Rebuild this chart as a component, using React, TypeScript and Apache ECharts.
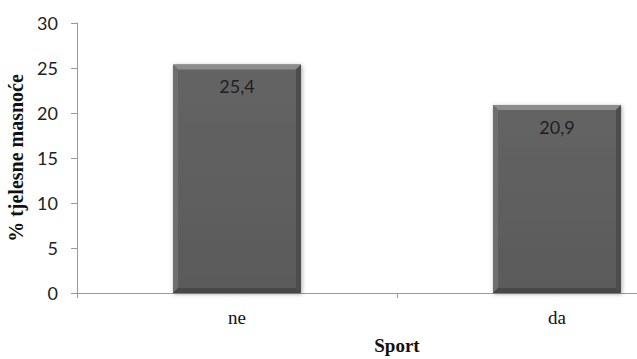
import React, { useEffect, useRef } from "react";
import * as echarts from "echarts";

const categories = ["ne", "da"];
const values = [25.4, 20.9];
const valueLabels = ["25,4", "20,9"];
const yTicks = [0, 5, 10, 15, 20, 25, 30];

export default function App() {
  const ref = useRef<HTMLDivElement>(null);

  useEffect(() => {
    document.body.style.margin = "0";
    if (!ref.current) return;
    const chart = echarts.init(ref.current, null, { renderer: "svg" });

    const renderBar = (params: any, api: any) => {
      const idx = api.value(0);
      const v = api.value(1);
      const top = api.coord([idx, v]);
      const base = api.coord([idx, 0]);
      const band = api.size([1, 0])[0];
      const w = band * 0.4;
      const l = top[0] - w / 2;
      const r = l + w;
      const t = top[1];
      const b = base[1];
      const bv = 5;
      return {
        type: "group",
        children: [
          {
            type: "rect",
            shape: { x: l, y: t, width: w, height: b - t },
            style: {
              fill: new echarts.graphic.LinearGradient(0, 0, 0, 1, [
                { offset: 0, color: "#646464" },
                { offset: 1, color: "#5a5a5a" },
              ]),
              shadowBlur: 4,
              shadowColor: "rgba(0,0,0,0.35)",
              shadowOffsetX: 1,
              shadowOffsetY: 1,
            },
          },
          {
            type: "polygon",
            shape: { points: [[l, t], [r, t], [r - bv, t + bv], [l + bv, t + bv]] },
            style: { fill: "#8c8c8c" },
          },
          {
            type: "polygon",
            shape: { points: [[l, t], [l + bv, t + bv], [l + bv, b - bv], [l, b]] },
            style: { fill: "#6e6e6e" },
          },
          {
            type: "polygon",
            shape: { points: [[r, t], [r - bv, t + bv], [r - bv, b - bv], [r, b]] },
            style: { fill: "#4c4c4c" },
          },
          {
            type: "polygon",
            shape: { points: [[l, b], [l + bv, b - bv], [r - bv, b - bv], [r, b]] },
            style: { fill: "#474747" },
          },
          {
            type: "text",
            x: (l + r) / 2,
            y: t + 22,
            style: {
              text: valueLabels[params.dataIndex],
              fill: "#1e1e1e",
              font: "18px Lato, 'Open Sans', sans-serif",
              align: "center",
              verticalAlign: "middle",
            },
          },
        ],
      };
    };

    chart.setOption({
      animation: false,
      backgroundColor: "#ffffff",
      grid: {
        left: 77,
        width: 640,
        top: 23,
        height: 270,
        containLabel: false,
        outerBoundsMode: "none",
      },
      xAxis: {
        type: "category",
        data: categories,
        boundaryGap: true,
        name: "Sport",
        nameLocation: "middle",
        nameGap: 43,
        nameTextStyle: {
          fontFamily: "'Liberation Serif', 'Times New Roman', serif",
          fontWeight: "bold",
          fontSize: 19,
          color: "#111",
        },
        axisLine: { lineStyle: { color: "#9a9a9a", width: 1 } },
        axisTick: { show: true, length: 5, lineStyle: { color: "#9a9a9a" } },
        axisLabel: {
          margin: 15,
          fontFamily: "'Liberation Serif', 'Times New Roman', serif",
          fontSize: 19,
          color: "#111",
        },
      },
      yAxis: {
        type: "value",
        min: yTicks[0],
        max: yTicks[yTicks.length - 1],
        interval: 5,
        name: "% tjelesne masnoće",
        nameLocation: "middle",
        nameGap: 50,
        nameTextStyle: {
          fontFamily: "'Liberation Serif', 'Times New Roman', serif",
          fontWeight: "bold",
          fontSize: 20,
          color: "#111",
        },
        axisLine: { show: true, lineStyle: { color: "#9a9a9a", width: 1 } },
        axisTick: { show: true, length: 6, lineStyle: { color: "#9a9a9a" } },
        axisLabel: {
          margin: 19,
          fontFamily: "Lato, 'Open Sans', sans-serif",
          fontSize: 18,
          color: "#222",
        },
        splitLine: { show: false },
      },
      series: [
        {
          type: "custom",
          renderItem: renderBar,
          encode: { x: 0, y: 1 },
          data: values.map((v, i) => [i, v]),
          clip: false,
        },
      ],
    });

    return () => chart.dispose();
  }, []);

  return <div ref={ref} style={{ width: 637, height: 359 }} />;
}
